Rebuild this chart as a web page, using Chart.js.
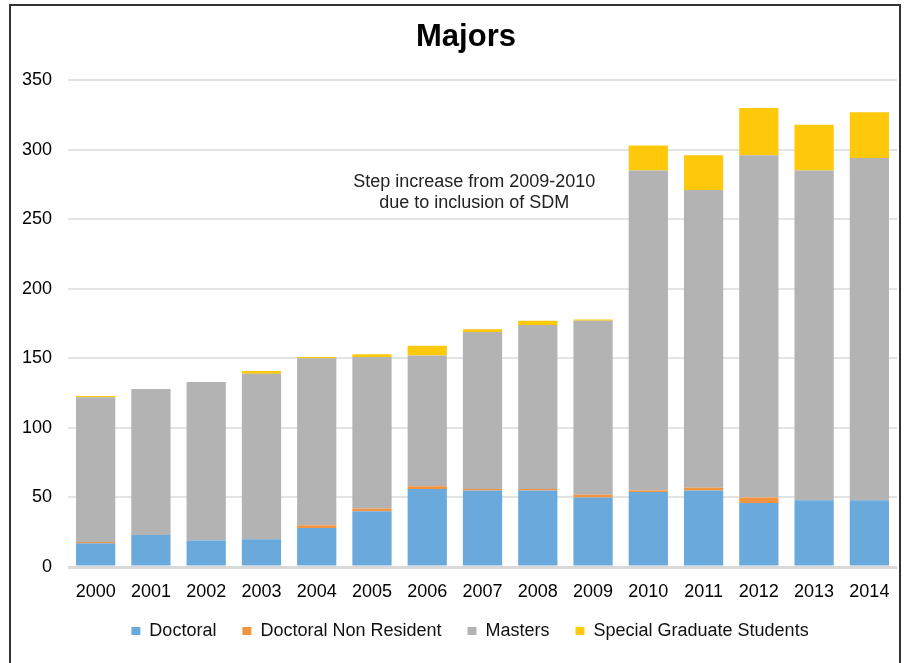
<!DOCTYPE html>
<html>
<head>
<meta charset="utf-8">
<title>Majors</title>
<script src="https://cdn.jsdelivr.net/npm/chart.js@4.4.0/dist/chart.umd.min.js"></script>
<style>
    html, body { margin: 0; padding: 0; background: #fff; }
    #wrap { position: relative; width: 908px; height: 663px; overflow: hidden; }
    #frame {
        position: absolute; left: 9px; top: 4px; width: 892px; height: 720px;
        border: 2px solid #333; box-sizing: border-box; pointer-events: none;
    }
    #chart { position: absolute; left: 0; top: 0; }
</style>
</head>
<body>
<div id="wrap">
    <canvas id="chart" width="908" height="663"></canvas>
    <div id="frame"></div>
</div>
<script>
    // ------------------------------------
    // Data
    // ------------------------------------
    const years = ['2000', '2001', '2002', '2003', '2004', '2005', '2006', '2007',
                   '2008', '2009', '2010', '2011', '2012', '2013', '2014'];
    const doctoral = [17, 23, 19, 20, 28, 40, 56, 55, 55, 50, 54, 55, 46, 48, 48];
    const doctoralNonResident = [1, 0, 0, 0, 2, 2, 2, 1, 1, 2, 1, 2, 4, 0, 0];
    const masters = [104, 105, 114, 119, 120, 109, 94, 113, 118, 125, 230, 214, 246, 237, 246];
    const specialGraduate = [1, 0, 0, 2, 1, 2, 7, 2, 3, 1, 18, 25, 34, 33, 33];
    const yTicks = [0, 50, 100, 150, 200, 250, 300, 350];
    const noteLines = ['Step increase from 2009-2010', 'due to inclusion of SDM'];

    Chart.defaults.font.family = '"Liberation Sans", Arial, Helvetica, sans-serif';
    Chart.defaults.color = '#000';

    // text note drawn over the plot, plus small nudges of title / legend
    const notePlugin = {
        id: 'note',
        afterLayout(chart) {
            // title and legend sit a little right of the canvas centre in the original
            chart.titleBlock.left += 29;
            chart.legend.left += 37;
            // legend row sits a bit higher, overlapping the empty part of the axis box
            chart.legend.top -= 7;
            chart.legend.bottom -= 7;
        },
        afterDatasetsDraw(chart) {
            const { ctx, scales: { x, y } } = chart;
            const cx = x.getPixelForDecimal(0.49);
            ctx.save();
            ctx.fillStyle = '#222';
            ctx.font = '18px "Liberation Sans", Arial, sans-serif';
            ctx.textAlign = 'center';
            ctx.textBaseline = 'middle';
            ctx.fillText(noteLines[0], cx, y.getPixelForValue(277));
            ctx.fillText(noteLines[1], cx, y.getPixelForValue(262));
            ctx.restore();
        }
    };

    const ctx = document.getElementById('chart').getContext('2d');
    new Chart(ctx, {
        type: 'bar',
        data: {
            labels: years,
            datasets: [
                { label: 'Doctoral', data: doctoral, backgroundColor: '#6aa9dc' },
                { label: 'Doctoral Non Resident', data: doctoralNonResident, backgroundColor: '#f39440' },
                { label: 'Masters', data: masters, backgroundColor: '#b3b3b3' },
                { label: 'Special Graduate Students', data: specialGraduate, backgroundColor: '#fdc90a' }
            ]
        },
        options: {
            responsive: false,
            animation: false,
            categoryPercentage: 1,
            barPercentage: 0.71,
            layout: { padding: { left: 6, right: 11, top: 9, bottom: 6 } },
            plugins: {
                title: {
                    display: true,
                    text: 'Majors',
                    color: '#000',
                    font: { size: 31, weight: 'bold' },
                    padding: { top: 10, bottom: 24 }
                },
                legend: {
                    position: 'bottom',
                    labels: {
                        boxWidth: 9,
                        boxHeight: 8,
                        padding: 26,
                        color: '#111',
                        font: { size: 18 }
                    }
                },
                tooltip: { enabled: false }
            },
            scales: {
                x: {
                    stacked: true,
                    grid: { display: false, drawTicks: false },
                    border: { display: false },
                    ticks: { padding: 14, font: { size: 18 }, color: '#000', maxRotation: 0 },
                    afterFit: s => { s.height = 36; }
                },
                y: {
                    stacked: true,
                    min: 0,
                    max: 350,
                    afterBuildTicks: s => { s.ticks = yTicks.map(v => ({ value: v })); },
                    ticks: { padding: 16, font: { size: 18 }, color: '#000' },
                    grid: {
                        drawTicks: false,
                        color: c => c.tick.value === 0 ? '#d9d9d9' : '#e3e3e3',
                        lineWidth: c => c.tick.value === 0 ? 3 : 2
                    },
                    border: { display: false }
                }
            }
        },
        plugins: [notePlugin]
    });
</script>
</body>
</html>
